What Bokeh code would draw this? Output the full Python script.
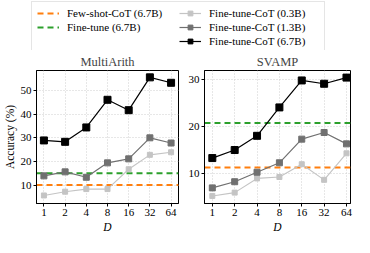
from bokeh.plotting import figure
from bokeh.models import Range1d, FixedTicker, Legend, LegendItem, ColumnDataSource, Span
from bokeh.layouts import column, row
from bokeh.embed import file_html
from bokeh.resources import INLINE

# ---- data ----
D_labels = ["1", "2", "4", "8", "16", "32", "64"]

ma_03 = [5.6, 7.2, 8.3, 8.3, 16.7, 22.8, 23.9]
ma_13 = [13.9, 15.6, 13.3, 19.4, 21.1, 30.0, 27.8]
ma_67 = [28.9, 28.3, 34.4, 46.1, 41.7, 55.6, 53.3]
ma_fewshot = 10.0
ma_finetune = 15.0

sv_03 = [5.3, 6.0, 9.0, 9.3, 12.0, 8.7, 14.3]
sv_13 = [7.0, 8.3, 10.3, 12.3, 17.3, 18.7, 16.3]
sv_67 = [13.3, 15.0, 18.0, 24.0, 29.7, 29.0, 30.3]
sv_fewshot = 11.3
sv_finetune = 20.7

ma_yticks = [10, 20, 30, 40, 50]
sv_yticks = [10, 20, 30]

FONT = "Liberation Serif"
ORANGE = "#ff7f0e"
GREEN = "#2ca02c"
C03 = "#c4c4c4"
C13 = "#707070"
C67 = "#000000"

xs = list(range(len(D_labels)))


def make_panel(title, s03, s13, s67, few, ft, yticks, yr, xr, width, mbl, ylabel):
    p = figure(width=width, height=187, output_backend="svg", toolbar_location=None,
               x_range=Range1d(*xr), y_range=Range1d(*yr),
               min_border_left=mbl, min_border_right=4, min_border_top=17, min_border_bottom=34)
    p.title.text = title
    p.title.align = "center"
    p.title.text_font = FONT
    p.title.text_font_size = "12.5px"
    p.title.text_font_style = "normal"
    p.title.offset = 0
    p.title.standoff = 4
    p.outline_line_color = "black"
    p.outline_line_width = 1
    p.background_fill_color = "white"
    p.border_fill_color = "white"

    p.xaxis.ticker = FixedTicker(ticks=xs)
    p.xaxis.major_label_overrides = {i: l for i, l in enumerate(D_labels)}
    p.yaxis.ticker = FixedTicker(ticks=yticks)
    for ax in (p.xaxis, p.yaxis):
        ax.axis_line_color = "black"
        ax.major_tick_line_color = "black"
        ax.major_tick_out = 3
        ax.major_tick_in = 0
        ax.minor_tick_line_color = None
        ax.major_label_text_font = FONT
        ax.major_label_text_font_size = "11px"
        ax.major_label_text_color = "black"
        ax.major_label_standoff = 2
        ax.axis_label_text_font = FONT
        ax.axis_label_text_font_size = "11.5px"
        ax.axis_label_text_color = "black"
        ax.axis_label_standoff = 2
    p.xaxis.axis_label = "D"
    p.xaxis.axis_label_text_font_style = "italic"
    if ylabel:
        p.yaxis.axis_label = ylabel
        p.yaxis.axis_label_text_font_style = "normal"

    for g in (p.xgrid, p.ygrid):
        g.grid_line_color = "#cfcfcf"
        g.grid_line_dash = "1 2"
        g.grid_line_width = 1

    p.add_layout(Span(location=few, dimension="width", line_color=ORANGE,
                      line_dash="6 4", line_width=2, level="underlay"))
    p.add_layout(Span(location=ft, dimension="width", line_color=GREEN,
                      line_dash="6 4", line_width=2, level="underlay"))

    for ys, col, sz, lw in ((s03, C03, 5, 1.1), (s13, C13, 6, 1.2), (s67, C67, 7, 1.2)):
        src = ColumnDataSource(dict(x=xs, y=ys))
        p.line("x", "y", source=src, line_color=col, line_width=lw)
        p.scatter("x", "y", source=src, marker="square", size=sz,
                  fill_color=col, line_color=col)
    return p


p1 = make_panel("MultiArith", ma_03, ma_13, ma_67, ma_fewshot, ma_finetune,
                ma_yticks, (2.2, 58.5), (-0.35, 6.35), 182, 32, "Accuracy (%)")
p2 = make_panel("SVAMP", sv_03, sv_13, sv_67, sv_fewshot, sv_finetune,
                sv_yticks, (3.7, 31.8), (-0.35, 6.18), 172, 22, None)

# ---- legend figure (legend-only) ----
lf = figure(width=354, height=50, output_backend="svg", toolbar_location=None,
            x_range=Range1d(0, 1), y_range=Range1d(0, 1),
            min_border_left=30, min_border_right=0, min_border_top=0, min_border_bottom=0)
lf.axis.visible = False
lf.grid.visible = False
lf.outline_line_color = None


def hidden():
    # placeholder points outside the visible range; only the legend glyphs are shown
    return ColumnDataSource(dict(x=[-10, -9], y=[-10, -10]))


r_few = lf.line("x", "y", source=hidden(), line_color=ORANGE, line_dash="6 4", line_width=2)
r_ft = lf.line("x", "y", source=hidden(), line_color=GREEN, line_dash="6 4", line_width=2)
r_blank = lf.line("x", "y", source=hidden(), line_alpha=0)
items_series = []
for col, sz, lab in ((C03, 5, "Fine-tune-CoT (0.3B)"), (C13, 6, "Fine-tune-CoT (1.3B)"),
                     (C67, 7, "Fine-tune-CoT (6.7B)")):
    s = hidden()
    rl = lf.line("x", "y", source=s, line_color=col, line_width=1.2)
    rs = lf.scatter("x", "y", source=s, marker="square", size=sz, fill_color=col, line_color=col)
    items_series.append(LegendItem(label=lab, renderers=[rl, rs]))

legend = Legend(items=[LegendItem(label="Few-shot-CoT (6.7B)", renderers=[r_few]),
                       LegendItem(label="Fine-tune (6.7B)", renderers=[r_ft]),
                       LegendItem(label=" ", renderers=[r_blank])] + items_series,
                orientation="vertical", nrows=3,
                location="top_left",
                label_text_font=FONT, label_text_font_size="11px", label_text_color="black",
                label_height=12, glyph_height=12, glyph_width=22,
                label_standoff=8, label_width=110, spacing=2, padding=5, margin=1,
                border_line_color="#cccccc", border_line_width=1,
                background_fill_alpha=1)
lf.add_layout(legend, "center")

layout = column(lf, row(p1, p2))
open("out.html", "w").write(file_html(layout, INLINE))
